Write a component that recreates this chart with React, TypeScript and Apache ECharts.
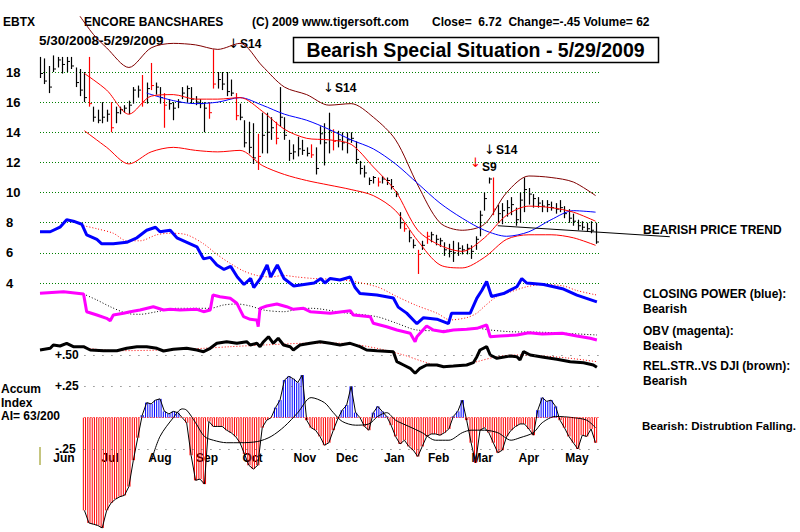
import { useEffect, useRef } from 'react';
import * as echarts from 'echarts';

// ---- price bars, one bar per two trading days (sample index 0..125) ----
const highs = [
  19.0, 18.9, 18.4, 19.1, 19.0, 19.0, 19.0, 19.0, 18.3, 18.2,
  18.0, 19.0, 15.7, 15.5, 16.0, 15.5, 16.0, 15.7, 15.7, 15.8,
  16.1, 17.0, 17.1, 17.8, 17.3, 18.6, 17.3, 17.0, 16.6, 16.2,
  16.0, 16.2, 17.0, 17.1, 17.0, 16.4, 16.2, 16.0, 16.0, 19.5,
  18.0, 18.0, 18.0, 17.5, 16.6, 15.9, 14.8, 14.7, 14.6, 13.9,
  15.3, 15.3, 15.0, 14.7, 17.0, 15.0, 13.5, 13.2, 13.7, 13.5,
  13.0, 13.2, 13.0, 14.4, 14.6, 15.3, 14.2, 14.1, 14.0, 14.0,
  14.0, 13.4, 12.1, 11.8, 11.0, 11.1, 11.0, 11.1, 11.0, 10.9,
  10.1, 8.7, 8.0, 7.5, 6.9, 6.2, 6.8, 7.4, 7.4, 7.2,
  7.0, 6.7, 6.6, 6.8, 6.7, 6.5, 6.6, 6.5, 7.1, 8.8,
  10.0, 11.0, 11.0, 9.2, 9.3, 9.5, 9.7, 9.0, 10.0, 11.0,
  10.3, 9.9, 9.7, 9.5, 9.5, 9.4, 9.3, 9.5, 9.1, 8.9,
  8.6, 8.2, 8.1, 8.0, 8.1, 8.0,
];
const lows = [
  17.6, 17.2, 16.6, 18.0, 18.3, 17.9, 18.0, 18.2, 17.0, 16.4,
  16.0, 15.7, 14.7, 14.6, 14.6, 14.7, 14.0, 14.6, 15.2, 15.3,
  15.2, 15.9, 16.3, 15.7, 15.9, 16.8, 16.5, 15.9, 14.3, 15.5,
  14.8, 15.6, 16.2, 16.0, 15.9, 15.8, 15.6, 14.0, 14.9, 16.9,
  16.9, 16.8, 16.4, 16.4, 14.8, 14.8, 13.0, 12.6, 11.9, 11.5,
  12.6, 12.6, 13.5, 13.2, 14.4, 13.5, 12.1, 12.2, 12.4, 12.5,
  12.4, 12.3, 11.2, 13.2, 11.8, 12.6, 12.8, 13.0, 12.8, 12.6,
  13.3, 11.9, 11.2, 11.0, 10.5, 10.6, 10.4, 10.6, 10.5, 10.2,
  9.7, 7.6, 7.4, 6.7, 6.3, 4.6, 6.2, 6.6, 6.7, 6.5,
  6.4, 5.8, 5.7, 5.4, 5.8, 5.9, 5.9, 5.6, 6.2, 7.1,
  8.8, 10.6, 8.5, 8.0, 7.9, 8.4, 8.5, 7.8, 8.0, 8.7,
  9.2, 9.0, 9.0, 8.7, 8.7, 8.8, 8.6, 8.7, 8.3, 8.0,
  7.8, 7.5, 7.5, 7.4, 7.3, 6.6,
];
const closes = [
  17.9, 17.4, 17.0, 18.2, 18.8, 18.5, 18.7, 18.4, 17.3, 16.8,
  16.3, 15.9, 15.0, 14.8, 15.0, 15.2, 14.3, 15.3, 15.5, 15.6,
  15.8, 16.8, 16.8, 16.0, 16.9, 17.1, 17.0, 16.3, 15.8, 15.9,
  15.6, 16.0, 16.6, 16.9, 16.2, 16.0, 15.9, 15.6, 15.3, 17.2,
  17.5, 17.2, 16.7, 16.6, 15.1, 15.0, 13.3, 13.0, 12.3, 12.4,
  13.8, 14.0, 14.3, 13.6, 15.0, 13.8, 12.6, 12.7, 12.9, 12.8,
  12.6, 12.5, 11.6, 13.9, 13.3, 14.1, 13.4, 13.5, 13.3, 13.5,
  13.6, 12.2, 11.6, 11.3, 10.8, 11.0, 10.7, 10.9, 10.8, 10.4,
  9.9, 8.0, 7.6, 7.0, 6.5, 5.9, 6.5, 7.1, 7.2, 6.9,
  6.8, 6.2, 6.1, 6.0, 6.3, 6.2, 6.3, 6.1, 6.9, 8.5,
  9.6, 10.9, 8.9, 8.6, 8.8, 9.0, 9.2, 8.2, 9.5, 10.2,
  9.9, 9.6, 9.3, 9.1, 9.2, 9.0, 8.9, 9.0, 8.6, 8.3,
  8.1, 7.8, 7.7, 7.6, 7.5, 6.72,
];
const redBars = [11, 16, 23, 25, 28, 38, 39, 44, 49, 53, 61, 66, 76, 82, 85, 87, 102];

// ---- bands and moving averages: [sample, price] ----
const upperBand = [[9, 21.7], [12, 20.5], [15, 19.6], [20, 18.3], [25, 19.6], [30, 19.9], [35, 19.8], [40, 19.5], [45, 19.9], [50, 18.4], [55, 17.0], [60, 16.5], [65, 15.8], [70, 15.9], [75, 15.0], [80, 13.5], [85, 10.5], [90, 8.0], [95, 7.5], [100, 7.9], [105, 10.0], [110, 11.1], [115, 11.0], [120, 10.7], [125, 9.8]];
const midAverage = [[10, 17.9], [15, 16.8], [20, 15.2], [25, 16.4], [30, 16.5], [35, 16.2], [40, 16.2], [45, 16.3], [50, 15.4], [55, 14.2], [60, 13.6], [65, 13.5], [70, 13.2], [75, 11.7], [80, 10.1], [85, 7.5], [90, 6.5], [95, 6.1], [100, 7.0], [105, 8.5], [110, 9.1], [115, 9.0], [120, 8.7], [125, 8.1]];
const lowerBand = [[10, 14.1], [15, 13.0], [20, 11.9], [25, 12.7], [30, 13.0], [35, 12.8], [40, 12.7], [45, 12.8], [50, 11.8], [55, 11.2], [60, 10.8], [65, 10.5], [70, 10.2], [75, 9.8], [80, 8.8], [85, 6.8], [90, 5.2], [95, 5.0], [100, 5.7], [105, 6.9], [110, 7.2], [115, 7.2], [120, 7.0], [125, 6.5]];
const longAverage = [[24, 16.6], [30, 16.1], [35, 15.9], [40, 16.0], [45, 16.3], [50, 15.8], [55, 15.2], [60, 14.8], [65, 14.2], [70, 13.5], [75, 12.9], [80, 11.9], [85, 10.6], [90, 9.3], [95, 8.3], [100, 7.5], [105, 7.1], [110, 7.4], [115, 8.2], [120, 8.8], [125, 8.7]];
const trendLine = [[103, 7.8], [141.7, 7.07]];

// ---- closing power (blue) and its average, on the price scale ----
const closingPower = [[0, 7.4], [2.3, 7.4], [4.5, 7.7], [6, 8.2], [7.5, 8.1], [9.4, 7.9], [10.5, 7.2], [12.8, 6.9], [13.9, 6.6], [16.5, 6.6], [19.5, 6.7], [21.8, 7.0], [24, 7.5], [26, 7.7], [27, 7.4], [29.3, 7.5], [30.8, 7.0], [33.8, 6.6], [35.3, 6.4], [36.8, 5.6], [38.3, 5.7], [39.8, 5.2], [41.4, 4.9], [42.9, 5.1], [44.4, 4.4], [45.9, 3.9], [47.4, 4.3], [48.1, 3.7], [49.6, 4.3], [51.1, 5.2], [51.9, 4.4], [53.4, 5.2], [54.9, 4.3], [57.1, 3.8], [59.4, 3.9], [61.7, 4.0], [63.2, 4.3], [64.1, 4.0], [65.3, 4.3], [67.5, 4.2], [69.8, 4.4], [70.9, 3.7], [72, 3.3], [75.8, 3.2], [79.5, 3.0], [80.6, 2.4], [82.5, 2.0], [84.8, 1.3], [86.3, 1.7], [89.3, 1.6], [91.9, 1.3], [92.6, 2.0], [96.8, 2.0], [98.3, 3.0], [99.4, 3.5], [100.5, 4.1], [101.6, 3.1], [104.3, 3.3], [107.3, 3.75], [108.4, 4.3], [109.5, 4.0], [113.3, 3.9], [117.8, 3.6], [120.8, 3.2], [125.3, 2.75]];
const closingPowerAvg = [[9.8, 7.8], [12.8, 7.6], [16.5, 7.3], [19.5, 6.8], [22.5, 6.8], [26.3, 7.2], [29.3, 7.3], [33, 7.2], [36.8, 6.6], [39.8, 5.9], [42.8, 5.3], [45.8, 4.8], [48.8, 4.5], [51.8, 4.4], [54.8, 4.5], [57.8, 4.4], [61.5, 4.3], [68.3, 4.2], [75.8, 3.75], [80.3, 3.1], [84.8, 2.5], [89.3, 2.0], [92.3, 1.55], [96, 1.7], [98.3, 2.0], [99.8, 2.4], [102.8, 3.1], [105.8, 3.4], [109.5, 3.75], [113.3, 3.9], [117.8, 3.8], [120.8, 3.5], [125.3, 3.2]];

// ---- OBV (magenta) and its average, arbitrary units ----
const obv = [[0, 56.7], [5.3, 58.3], [9.8, 56], [10.5, 38.3], [12.8, 35], [15, 31.7], [15.8, 29.3], [16.5, 35], [18.8, 36.7], [20.3, 38.3], [22.5, 40], [25.5, 43.3], [27.8, 40], [29.3, 40.7], [31.5, 40], [35.3, 40.7], [36.8, 38.3], [38.3, 40], [38.9, 55], [40.5, 53.3], [42.8, 51.7], [44.3, 46.7], [45.8, 33.3], [47.3, 30.7], [48.8, 30], [49.1, 23.3], [49.5, 41.7], [51, 44], [53.3, 46], [55.5, 43.3], [57, 40.7], [59.3, 41.7], [60.8, 38.3], [65.3, 36.7], [69.8, 39.3], [70.5, 35], [74.3, 33.3], [75, 26.7], [78, 23.3], [80.3, 20], [83.3, 16.7], [84.4, 8.3], [84.8, 13.3], [85.5, 16.7], [87, 24], [88.5, 20], [90.8, 18.3], [93, 20], [96, 20.7], [98.3, 21.7], [100.5, 25], [101.3, 13.3], [103.5, 14], [107.3, 15], [110, 17.3], [113, 16], [117.5, 16.7], [120.8, 14], [123.8, 11.7], [125.3, 10]];
const obvAvg = [[9.8, 56], [12.8, 50], [15.8, 43.3], [19.5, 36.7], [22.5, 35.7], [26.3, 38.3], [30.8, 41.7], [35.3, 41.7], [38.3, 41.7], [41.3, 45], [44.3, 46], [47.3, 44], [50.3, 40], [54.8, 38.3], [59.3, 41.7], [61, 41.7], [68.3, 37.3], [75.8, 33.3], [80.3, 26.7], [84.8, 20], [89.3, 19.3], [92.3, 20], [98.3, 21.7], [101.3, 20], [105.8, 18.3], [113.3, 17.7], [125.3, 15]];

// ---- relative strength vs DJI (black) and its average ----
const relStrength = [[0, 30], [2.3, 31.7], [3, 35], [4.5, 34], [6, 36.7], [7.5, 33.3], [9.8, 33.3], [11.3, 30], [14.3, 29.3], [17.3, 29.3], [19.5, 31.7], [21.8, 33.3], [24, 33.3], [26.3, 31.7], [27.8, 29], [30, 30.7], [33, 31.7], [35.3, 30], [36.8, 28.3], [38.3, 31.7], [39.8, 36.7], [42, 38.3], [44.3, 36.7], [46.5, 38.3], [47.3, 35], [48.8, 36.7], [49.5, 33.3], [50.3, 38.3], [51.4, 43.3], [52.5, 36.7], [53.6, 41.7], [54.8, 35], [56.3, 33.3], [57, 30], [58.5, 35], [60.8, 36.7], [63, 38.3], [65.3, 36.7], [67.5, 35], [69.8, 36.7], [72, 33.3], [73.5, 30], [75.8, 29.3], [79.5, 28.3], [80.3, 18.3], [81.8, 15], [83.3, 11.7], [84.4, 6.7], [85.5, 11.7], [87, 15], [89.3, 15], [90.8, 13.3], [93, 14], [96, 15], [97.5, 17.3], [98.3, 23.3], [99, 30], [100.5, 33.3], [101.3, 25], [102.8, 21.7], [105.8, 24], [107.3, 23.3], [108, 20], [108.8, 28.3], [110.3, 25], [113.3, 22.7], [116.3, 20.7], [119.3, 18.3], [122.3, 17.3], [124.5, 15], [125.3, 12.7]];
const relStrengthAvg = [[10.5, 31.7], [17.3, 29.3], [27.8, 30], [36.8, 31.7], [42.8, 33.3], [50.3, 35], [62, 37], [68.3, 36.7], [75.8, 31.7], [81.8, 25], [86.3, 18.3], [90.8, 13.3], [94.5, 14], [98.3, 18.3], [102.8, 23.3], [107.3, 25], [113.3, 24], [119.3, 21.7], [125.3, 18.3]];

// ---- accumulation index, one value per sample (null before it starts) ----
const accumIndex = [
  null, null, null, null, null, null, null, null, null, null,
  -0.74, -0.84, -0.85, -0.86, -0.88, -0.74, -0.68, -0.65, -0.63, -0.62,
  -0.55, -0.34, -0.16, 0.02, 0.12, 0.11, 0.14, 0.15, 0.05, 0.03,
  0.05, 0.04, 0.0, -0.04, -0.3, -0.5, -0.49, -0.53, -0.03, -0.07,
  -0.07, -0.07, -0.1, -0.12, -0.15, -0.2, -0.29, -0.38, -0.41, -0.38,
  -0.08, -0.02, 0.0, 0.08, 0.14, 0.3, 0.33, 0.31, 0.28, 0.34,
  -0.02, -0.08, -0.1, -0.15, -0.22, -0.2, -0.1, -0.01, 0.06, 0.1,
  0.25, 0.04, 0.0, -0.07, -0.1, 0.04, 0.09, 0.05, 0.01, -0.06,
  -0.15, -0.21, -0.18, -0.23, -0.26, -0.31, -0.23, -0.15, -0.13, -0.13,
  -0.14, -0.12, -0.09, 0.01, 0.05, 0.14, -0.02, -0.2, -0.36, -0.1,
  -0.08, -0.12, -0.2, -0.28, -0.26, -0.15, -0.1, -0.07, -0.05, -0.05,
  -0.09, -0.14, 0.06, 0.16, 0.13, 0.14, 0.09, -0.02, -0.08, -0.15,
  -0.2, -0.25, -0.14, -0.15, -0.09, -0.2,
];
const accumAvg = [[25, -0.35], [27, -0.15], [30, 0.0], [32, 0.07], [33, 0.06], [35, -0.04], [37, -0.15], [39, -0.18], [42, -0.2], [45, -0.2], [49, -0.19], [52, -0.15], [55, -0.07], [58, 0.04], [61, 0.16], [64, 0.12], [66, 0.04], [68, -0.03], [71, -0.06], [74, -0.05], [76, 0.01], [78, 0.04], [80, -0.02], [83, -0.07], [86, -0.12], [89, -0.18], [92, -0.18], [95, -0.12], [97, -0.1], [100, -0.1], [103, -0.12], [106, -0.18], [108, -0.16], [111, -0.12], [113, -0.04], [116, 0.01], [120, 0.0], [123, -0.02], [125, -0.08]];

// ---- axis labels ----
const monthNames = ['Jun', 'Jul', 'Aug', 'Sep', 'Oct', 'Nov', 'Dec', 'Jan', 'Feb', 'Mar', 'Apr', 'May'];
const monthPos = [5.4, 15.8, 27, 37.6, 47.8, 59.6, 69.1, 79.7, 89.7, 99.5, 110, 120.8];
const aiTickLabels: Record<string, string> = { '0.5': '+.50', '0.25': '+.25', '-0.25': '-.25' };

const FONT = '"Liberation Sans", Arial, sans-serif';
const bold = (size: number) => `bold ${size}px ${FONT}`;

function txt(text: string, x: number, y: number, size = 12, fill = '#000', align = 'left', font?: string) {
  return { type: 'text', x, y, style: { text, font: font ?? bold(size), fill, textAlign: align, textVerticalAlign: 'middle' } };
}
const arrowFont = '13px "DejaVu Sans", sans-serif';

export default function App() {
  const ref = useRef<HTMLDivElement>(null);
  useEffect(() => {
    if (!ref.current) return;
    const chart = echarts.init(ref.current, undefined, { renderer: 'svg' });
    const barData = highs.map((h, i) => [i, h, lows[i], closes[i], redBars.includes(i) ? 1 : 0]);
    const aiData = accumIndex.map((v, i) => [i, v]).filter((d) => d[1] !== null);
    const lineBase = { type: 'line', showSymbol: false, symbol: 'none', clip: false, silent: true };
    const dotted = (color: string) => ({ color, width: 1, type: [1, 2] });
    const aiRef = (v: number, color: string, dash: number[]) => [
      { coord: [10, v], lineStyle: { color, width: 1, type: dash } },
      { coord: [126, v] },
    ];
    const xHidden = (gi: number, max = 126) => ({ gridIndex: gi, type: 'value', min: 0, max, show: false });

    chart.setOption({
      animation: false,
      backgroundColor: '#fff',
      textStyle: { fontFamily: FONT },
      grid: [
        { left: 40, width: 560, top: 72, height: 211 },
        { left: 40, width: 560, top: 280, height: 70 },
        { left: 40, width: 560, top: 300, height: 80 },
        { left: 40, width: 560, top: 355, height: 94 },
        // same price scale, widened to reach the trend-line label
        { left: 40, width: 630, top: 72, height: 211 },
      ],
      xAxis: [
        xHidden(0), xHidden(1), xHidden(2),
        {
          gridIndex: 3, type: 'value', min: 0, max: 126,
          axisLine: { show: false }, axisTick: { show: false }, splitLine: { show: false },
          axisLabel: {
            customValues: monthPos,
            formatter: (v: number) => monthNames[monthPos.indexOf(v)] ?? '',
            color: '#000', fontWeight: 'bold', fontSize: 12, margin: 3, fontFamily: FONT,
          },
        },
        xHidden(4, 141.75),
      ],
      yAxis: [
        {
          gridIndex: 0, type: 'value', min: 4, max: 18, interval: 2,
          axisLine: { show: false }, axisTick: { show: false },
          axisLabel: { align: 'left', margin: 34, color: '#000', fontWeight: 'bold', fontSize: 13, fontFamily: FONT },
          splitLine: { lineStyle: dotted('#008000') },
        },
        { gridIndex: 1, type: 'value', min: 0, max: 70, show: false, splitLine: { show: false } },
        { gridIndex: 2, type: 'value', min: 0, max: 80, show: false, splitLine: { show: false } },
        {
          gridIndex: 3, type: 'value', min: -0.25, max: 0.5, interval: 0.25,
          axisLine: { show: false }, axisTick: { show: false }, splitLine: { show: false },
          axisLabel: {
            inside: true, margin: 15, color: '#000', fontWeight: 'bold', fontSize: 12, fontFamily: FONT,
            formatter: (v: number) => aiTickLabels[String(Math.round(v * 100) / 100)] ?? '',
          },
        },
        { gridIndex: 4, type: 'value', min: 4, max: 18, show: false, splitLine: { show: false } },
      ],
      series: [
        { ...lineBase, name: 'upper band', data: upperBand, smooth: 0.3, lineStyle: { color: '#800000', width: 1 } },
        { ...lineBase, name: 'lower band', data: lowerBand, smooth: 0.3, lineStyle: { color: '#ff0000', width: 1 } },
        { ...lineBase, name: 'long average', data: longAverage, smooth: 0.3, lineStyle: { color: '#0000ff', width: 1 } },
        { ...lineBase, name: 'average', data: midAverage, smooth: 0.3, lineStyle: { color: '#ff0000', width: 1 } },
        {
          type: 'custom', name: 'price', data: barData, clip: false, silent: true, z: 3,
          encode: { x: 0, y: 1 },
          renderItem: (_p: any, api: any) => {
            const s = api.value(0);
            const top = api.coord([s, api.value(1)]);
            const bot = api.coord([s, api.value(2)]);
            const cl = api.coord([s, api.value(3)]);
            const color = api.value(4) ? '#ff0000' : '#000000';
            const x = Math.round(top[0]) + 0.5;
            return {
              type: 'group',
              children: [
                { type: 'line', shape: { x1: x, y1: top[1], x2: x, y2: bot[1] }, style: { stroke: color, lineWidth: 1.2 } },
                { type: 'line', shape: { x1: x, y1: cl[1], x2: x + 2.5, y2: cl[1] }, style: { stroke: color, lineWidth: 1 } },
              ],
            };
          },
        },
        { ...lineBase, name: 'trend', xAxisIndex: 4, yAxisIndex: 4, data: trendLine, lineStyle: { color: '#000', width: 1 }, z: 4 },
        { ...lineBase, name: 'closing power avg', data: closingPowerAvg, smooth: 0.3, lineStyle: dotted('#ff0000') },
        { ...lineBase, name: 'closing power', data: closingPower, lineStyle: { color: '#0000ff', width: 3 } },
        { ...lineBase, name: 'obv avg', xAxisIndex: 1, yAxisIndex: 1, data: obvAvg, smooth: 0.3, lineStyle: dotted('#000') },
        { ...lineBase, name: 'obv', xAxisIndex: 1, yAxisIndex: 1, data: obv, lineStyle: { color: '#ff00ff', width: 3 } },
        { ...lineBase, name: 'rs avg', xAxisIndex: 2, yAxisIndex: 2, data: relStrengthAvg, smooth: 0.3, lineStyle: dotted('#ff0000') },
        { ...lineBase, name: 'rs', xAxisIndex: 2, yAxisIndex: 2, data: relStrength, lineStyle: { color: '#000', width: 3 } },
        {
          type: 'custom', name: 'accum bars', xAxisIndex: 3, yAxisIndex: 3, data: aiData, clip: false, silent: true,
          encode: { x: 0, y: 1 },
          renderItem: (_p: any, api: any) => {
            const s = api.value(0);
            const v = api.value(1);
            const p0 = api.coord([s, 0]);
            const p1 = api.coord([s, v]);
            const color = v >= 0 ? '#0000ff' : '#ff0000';
            return {
              type: 'group',
              children: [-1.1, 1.1].map((dx) => ({
                type: 'line',
                shape: { x1: p0[0] + dx, y1: p0[1], x2: p1[0] + dx, y2: p1[1] },
                style: { stroke: color, lineWidth: 1 },
              })),
            };
          },
        },
        {
          ...lineBase, name: 'accum', xAxisIndex: 3, yAxisIndex: 3, data: aiData, lineStyle: { color: '#000', width: 1 },
          markLine: {
            symbol: 'none', silent: true, label: { show: false },
            data: [
              aiRef(0.5, '#555', [1, 8]),
              aiRef(0.25, '#555', [1, 8]),
              aiRef(0, '#ff0000', [1, 2]),
              aiRef(-0.25, '#555', [1, 8]),
            ],
          },
        },
        { ...lineBase, name: 'accum avg', xAxisIndex: 3, yAxisIndex: 3, data: accumAvg, smooth: 0.3, lineStyle: { color: '#000', width: 1 } },
      ],
      graphic: [
        txt('EBTX', 3, 22),
        txt('ENCORE BANCSHARES', 84, 22),
        txt('(C) 2009 www.tigersoft.com', 252, 22),
        txt('Close=  6.72  Change=-.45 Volume= 62', 432, 22),
        txt('5/30/2008-5/29/2009', 39, 40, 13.5),
        { type: 'rect', shape: { x: 293.5, y: 37.5, width: 365, height: 25 }, style: { fill: 'none', stroke: '#000', lineWidth: 1.5 } },
        txt('Bearish Special Situation - 5/29/2009', 475.5, 50, 19.5, '#000', 'center'),
        txt('\u2193', 228, 43, 13, '#000', 'left', arrowFont),
        txt('S14', 240, 44),
        txt('\u2193', 323, 87, 13, '#000', 'left', arrowFont),
        txt('S14', 335, 88),
        txt('\u2193', 484, 149, 13, '#000', 'left', arrowFont),
        txt('S14', 496, 150),
        txt('\u2193', 470, 162, 13, '#ff0000', 'left', arrowFont),
        txt('S9', 482, 167),
        txt('BEARISH PRICE TREND', 643, 230),
        txt('CLOSING POWER (blue):', 643, 294),
        txt('Bearish', 643, 309),
        txt('OBV (magenta):', 643, 331),
        txt('Beaish', 643, 346),
        txt('REL.STR..VS DJI (brown):', 643, 366),
        txt('Bearish', 643, 381),
        txt('Bearish: Distrubtion Falling.', 642, 426, 11.5),
        txt('Accum', 1, 389),
        txt('Index', 1, 403),
        txt('AI= 63/200', 1, 416),
        { type: 'line', shape: { x1: 40, y1: 447, x2: 40, y2: 465 }, style: { stroke: '#8c8c00', lineWidth: 1 } },
      ],
    });
    return () => chart.dispose();
  }, []);
  return <div ref={ref} style={{ position: 'absolute', left: 0, top: 0, width: 800, height: 532 }} />;
}
